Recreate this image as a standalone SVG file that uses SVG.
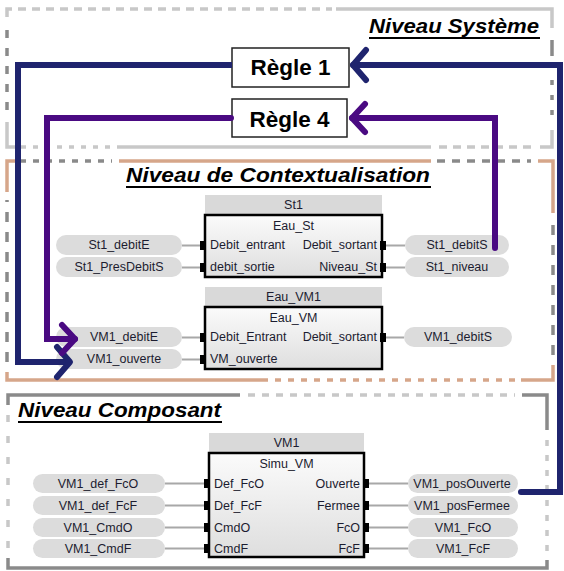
<svg xmlns="http://www.w3.org/2000/svg" width="564" height="571" viewBox="0 0 564 571">
<style>
.lg{stroke:#c8c8c8;stroke-width:3.5;fill:none}
.dg{stroke:#8a8a8a;stroke-width:3.5;fill:none}
.tn{stroke:#d6a68a;stroke-width:3.5;fill:none}
.title{font-family:"Liberation Sans",Arial,sans-serif;font-weight:bold;font-style:italic;font-size:21px;fill:#000}
.ul{stroke:#000;stroke-width:2.2}
.rule rect{fill:#fff;stroke:#222;stroke-width:1.5}
.rule text{font-family:"Liberation Sans",Arial,sans-serif;font-weight:bold;font-size:22.5px;fill:#000;text-anchor:middle}
.hdr{fill:#d9d9d9}
.body{fill:url(#bg);stroke:#000;stroke-width:2.5}
.t{font-family:"Liberation Sans",Arial,sans-serif;font-size:12.5px;fill:#1c1c30}
.m{text-anchor:middle}
.e{text-anchor:end}
.pill{fill:#dcdcdc}
.port{fill:#000}
.wire{stroke:#a8a8a8;stroke-width:2;fill:none}
.blue{stroke:#1f246e;stroke-width:6;fill:none;stroke-linejoin:miter}
.purp{stroke:#4a0a82;stroke-width:6;fill:none;stroke-linejoin:miter}
</style>
<defs>
<linearGradient id="bg" x1="0" y1="0" x2="0" y2="1">
<stop offset="0" stop-color="#fbfbfb"/>
<stop offset="1" stop-color="#dedede"/>
</linearGradient>
<marker id="ab" markerUnits="userSpaceOnUse" markerWidth="30" markerHeight="40" viewBox="0 0 30 40" refX="19" refY="20" orient="auto">
<path d="M6,5 L19,20 L6,35" fill="none" stroke="#1f246e" stroke-width="6" stroke-linecap="round" stroke-linejoin="round"/>
</marker>
<marker id="ap" markerUnits="userSpaceOnUse" markerWidth="30" markerHeight="40" viewBox="0 0 30 40" refX="19" refY="20" orient="auto">
<path d="M6,6 L19,20 L6,34" fill="none" stroke="#4a0a82" stroke-width="6" stroke-linecap="round" stroke-linejoin="round"/>
</marker>
</defs>
<rect width="564" height="571" fill="#fff"/>

<g id="level-systeme">
<path class="lg" d="M7,17 V9 H12"/>
<path class="lg" d="M18,9 H332" stroke-dasharray="8 6"/>
<path class="lg" d="M336,9 H552 V28"/>
<path class="dg" d="M552,40 V56"/>
<path class="dg" d="M552,80 V120" stroke-dasharray="5 10"/>
<path class="lg" d="M552,130 V147 H540"/>
<path class="lg" d="M531,147 H437" stroke-dasharray="8 6"/>
<path class="lg" d="M431,147 H117"/>
<path class="lg" d="M110,147 H18" stroke-dasharray="5 7"/>
<path class="lg" d="M15,147 H7 V122"/>
<path class="dg" d="M7,110 V28" stroke-dasharray="8 10"/>
<text class="title" x="369" y="33" textLength="170" lengthAdjust="spacingAndGlyphs">Niveau Système</text>
<line class="ul" x1="369" y1="38" x2="540" y2="38"/>
</g>

<g id="level-contexte">
<path class="tn" d="M7,192 V161 H15"/>
<path class="dg" d="M20,161 H112" stroke-dasharray="6 7"/>
<path class="tn" d="M119,161 H431"/>
<path class="dg" d="M437,161 H531" stroke-dasharray="8 7"/>
<path class="tn" d="M538,161 H553 V213"/>
<path class="dg" d="M553,225 V355" stroke-dasharray="10 10"/>
<path class="tn" d="M553,365 V380 H521"/>
<path class="tn" d="M515,380 H272" stroke-dasharray="6 7"/>
<path class="tn" d="M268,380 H7 V372"/>
<path class="dg" d="M7,362 V200" stroke-dasharray="10 10"/>
<text class="title" x="126" y="182" textLength="304" lengthAdjust="spacingAndGlyphs">Niveau de Contextualisation</text>
<line class="ul" x1="126" y1="187" x2="431" y2="187"/>
</g>

<g id="level-composant">
<path class="dg" d="M8,405 V395 H240"/>
<path class="lg" d="M248,395 H515" stroke-dasharray="7 7"/>
<path class="dg" d="M522,395 H547 V430"/>
<path class="lg" d="M547,440 V560" stroke-dasharray="6 9"/>
<path class="dg" d="M547,560 V568 H8 V558"/>
<path class="lg" d="M8,415 V552" stroke-dasharray="7 14"/>
<text class="title" x="18" y="417" textLength="203" lengthAdjust="spacingAndGlyphs">Niveau Composant</text>
<line class="ul" x1="18" y1="422" x2="222" y2="422"/>
</g>

<g id="regle1" class="rule">
<rect x="232" y="48" width="117" height="39"/>
<text x="290.5" y="75">Règle 1</text>
</g>
<g id="regle4" class="rule">
<rect x="232" y="99" width="115" height="38"/>
<text x="289.5" y="127">Règle 4</text>
</g>

<g id="St1">
<rect class="hdr" x="205" y="195" width="177" height="20"/>
<text class="t m" x="293.5" y="209">St1</text>
<rect class="body" x="205" y="215" width="177" height="62"/>
<text class="t m" x="293.5" y="230">Eau_St</text>
<text class="t" x="210" y="249">Debit_entrant</text>
<text class="t e" x="377" y="249">Debit_sortant</text>
<text class="t" x="210" y="271">debit_sortie</text>
<text class="t e" x="377" y="271">Niveau_St</text>
<rect class="port" x="200" y="241" width="6" height="9"/>
<rect class="port" x="200" y="263" width="6" height="9"/>
<rect class="port" x="380" y="241" width="6" height="9"/>
<rect class="port" x="380" y="263" width="6" height="9"/>
</g>

<g id="Eau_VM1">
<rect class="hdr" x="205" y="287" width="177" height="20"/>
<text class="t m" x="293.5" y="301">Eau_VM1</text>
<rect class="body" x="205" y="307" width="177" height="62"/>
<text class="t m" x="293.5" y="322">Eau_VM</text>
<text class="t" x="210" y="341">Debit_Entrant</text>
<text class="t e" x="377" y="341">Debit_sortant</text>
<text class="t" x="210" y="363">VM_ouverte</text>
<rect class="port" x="200" y="333" width="6" height="9"/>
<rect class="port" x="200" y="355" width="6" height="9"/>
<rect class="port" x="380" y="333" width="6" height="9"/>
</g>

<g id="VM1">
<rect class="hdr" x="209" y="433" width="155" height="20"/>
<text class="t m" x="286.5" y="447">VM1</text>
<rect class="body" x="209" y="453" width="155" height="104"/>
<text class="t m" x="286.5" y="468">Simu_VM</text>
<text class="t" x="214" y="488">Def_FcO</text>
<text class="t" x="214" y="510">Def_FcF</text>
<text class="t" x="214" y="532">CmdO</text>
<text class="t" x="214" y="553">CmdF</text>
<text class="t e" x="360" y="488">Ouverte</text>
<text class="t e" x="360" y="510">Fermee</text>
<text class="t e" x="360" y="532">FcO</text>
<text class="t e" x="360" y="553">FcF</text>
<rect class="port" x="204" y="479" width="6" height="9"/>
<rect class="port" x="204" y="501" width="6" height="9"/>
<rect class="port" x="204" y="523" width="6" height="9"/>
<rect class="port" x="204" y="544" width="6" height="9"/>
<rect class="port" x="363" y="479" width="6" height="9"/>
<rect class="port" x="363" y="501" width="6" height="9"/>
<rect class="port" x="363" y="523" width="6" height="9"/>
<rect class="port" x="363" y="544" width="6" height="9"/>
</g>

<g id="St1_debitE"><rect class="pill" x="56" y="235" width="126" height="20" rx="10"/><text class="t m" x="119" y="249">St1_debitE</text></g>
<g id="St1_PresDebitS"><rect class="pill" x="56" y="257" width="126" height="20" rx="10"/><text class="t m" x="119" y="271">St1_PresDebitS</text></g>
<g id="St1_debitS"><rect class="pill" x="405" y="235" width="104" height="20" rx="10"/><text class="t m" x="457" y="249">St1_debitS</text></g>
<g id="St1_niveau"><rect class="pill" x="405" y="257" width="104" height="20" rx="10"/><text class="t m" x="457" y="271">St1_niveau</text></g>
<g id="VM1_debitE"><rect class="pill" x="56" y="327" width="126" height="20" rx="10"/><text class="t m" x="124" y="341">VM1_debitE</text></g>
<g id="VM1_ouverte"><rect class="pill" x="56" y="349" width="126" height="20" rx="10"/><text class="t m" x="124" y="363">VM1_ouverte</text></g>
<g id="VM1_debitS"><rect class="pill" x="404" y="327" width="108" height="20" rx="10"/><text class="t m" x="458" y="341">VM1_debitS</text></g>
<g id="VM1_def_FcO"><rect class="pill" x="33" y="474" width="132" height="19" rx="9.5"/><text class="t m" x="98" y="488">VM1_def_FcO</text></g>
<g id="VM1_def_FcF"><rect class="pill" x="33" y="496" width="132" height="19" rx="9.5"/><text class="t m" x="98" y="510">VM1_def_FcF</text></g>
<g id="VM1_CmdO"><rect class="pill" x="33" y="518" width="132" height="19" rx="9.5"/><text class="t m" x="98" y="532">VM1_CmdO</text></g>
<g id="VM1_CmdF"><rect class="pill" x="33" y="539" width="132" height="19" rx="9.5"/><text class="t m" x="98" y="553">VM1_CmdF</text></g>
<g id="VM1_posOuverte"><rect class="pill" x="408" y="474" width="110" height="19" rx="9.5"/><text class="t m" x="462" y="488">VM1_posOuverte</text></g>
<g id="VM1_posFermee"><rect class="pill" x="408" y="496" width="110" height="19" rx="9.5"/><text class="t m" x="462" y="510">VM1_posFermee</text></g>
<g id="VM1_FcO"><rect class="pill" x="408" y="518" width="110" height="19" rx="9.5"/><text class="t m" x="463" y="532">VM1_FcO</text></g>
<g id="VM1_FcF"><rect class="pill" x="408" y="539" width="110" height="19" rx="9.5"/><text class="t m" x="463" y="553">VM1_FcF</text></g>

<g id="connectors">
<path class="wire" d="M182,245.5 H200 M182,267.5 H200 M386,245.5 H405 M386,267.5 H405"/>
<path class="wire" d="M182,337.5 H200 M182,359.5 H200 M386,337.5 H404"/>
<path class="wire" d="M165,483.5 H204 M165,505.5 H204 M165,527.5 H204 M165,548.5 H204"/>
<path class="wire" d="M369,483.5 H408 M369,505.5 H408 M369,527.5 H408 M369,548.5 H408"/>
<path class="blue" d="M521,492 H560 V65 H353" stroke-linecap="round" marker-end="url(#ab)"/>
<path class="blue" d="M232,65 H18 V362 H70" marker-end="url(#ab)"/>
<path class="purp" d="M495,248 V118 H352" stroke-linecap="round" marker-end="url(#ap)"/>
<path class="purp" d="M231,118 H47 V339 H75" stroke-linecap="round" marker-end="url(#ap)"/>
</g>
</svg>
